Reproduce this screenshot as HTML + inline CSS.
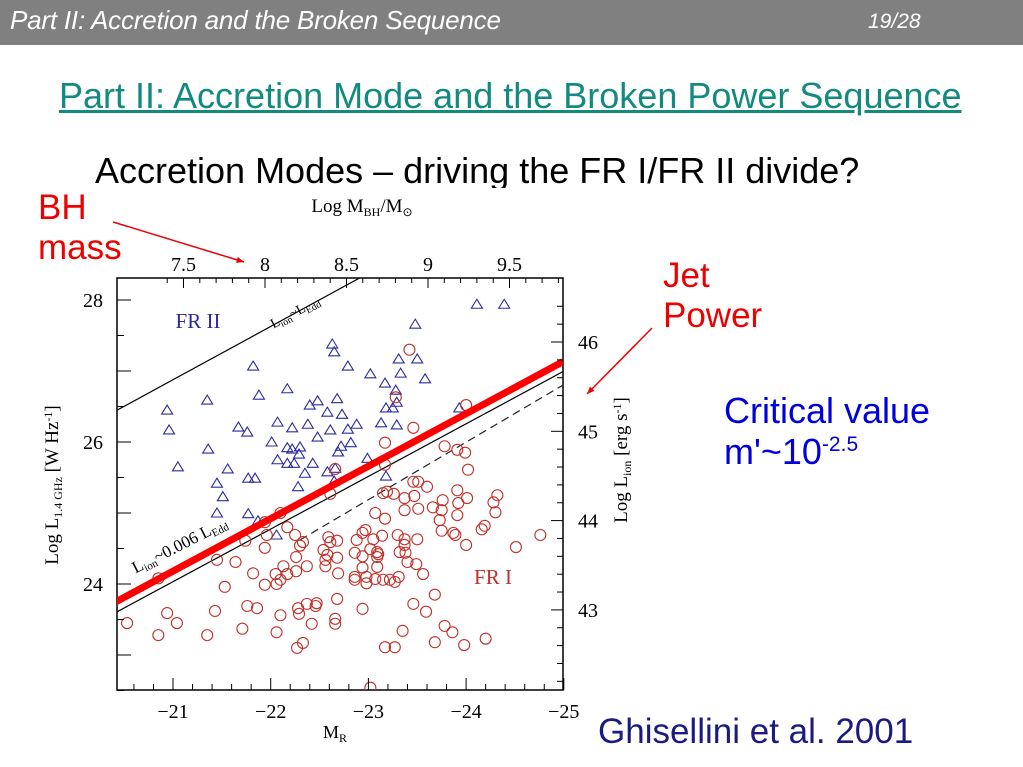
<!DOCTYPE html>
<html><head><meta charset="utf-8"><style>
html,body{margin:0;padding:0;background:#fff;}
body{width:1023px;height:767px;position:relative;overflow:hidden;font-family:"Liberation Sans",sans-serif;}
.abs{position:absolute;white-space:nowrap;}
</style></head><body>
<div class="abs" style="left:0;top:0;width:1023px;height:45px;background:#808080;"></div>
<div class="abs" style="left:10px;top:5px;font-size:26px;font-style:italic;color:#fff;letter-spacing:-0.2px;">Part II: Accretion and the Broken Sequence</div>
<div class="abs" style="left:868px;top:10px;font-size:21px;font-style:italic;color:#fff;">19/28</div>
<div class="abs" style="left:59px;top:75px;font-size:36px;color:#138a80;text-decoration:underline;">Part II: Accretion Mode and the Broken Power Sequence</div>
<div class="abs" style="left:95px;top:150px;font-size:36px;color:#000;height:38px;overflow:hidden;">Accretion Modes – driving the FR I/FR II divide?</div>

<svg id="chart" class="abs" style="left:0;top:0" width="1023" height="767" xmlns="http://www.w3.org/2000/svg"></svg>

<div class="abs" style="left:38px;top:188px;font-size:35px;color:#e00;line-height:40px;">BH<br>mass</div>
<div class="abs" style="left:663px;top:256px;font-size:35px;color:#e00;line-height:40px;">Jet<br>Power</div>
<div class="abs" style="left:724px;top:390px;font-size:36px;color:#0000dd;line-height:41px;">Critical value<br>m'~10<sup style="font-size:21px;line-height:0;">-2.5</sup></div>
<div class="abs" style="left:598px;top:712px;font-size:35px;color:#1a1a80;">Ghisellini et al. 2001</div>

<script>
const triM=[-24.11,-24.39,-23.48,-22.63,-22.65,-23.50,-23.31,-22.79,-21.82,-23.02,-23.33,-23.58,-23.17,-23.28,-22.17,-21.88,-23.29,-21.35,-22.68,-22.48,-22.40,-20.94,-23.18,-23.25,-23.93,-22.58,-22.73,-22.07,-22.38,-22.88,-23.13,-23.29,-22.22,-21.67,-21.76,-22.61,-22.79,-20.96,-22.48,-22.01,-22.82,-22.17,-22.22,-22.30,-22.72,-21.36,-22.29,-22.69,-22.99,-22.07,-22.17,-22.24,-22.43,-21.05,-21.56,-22.35,-22.58,-22.66,-23.18,-21.77,-21.84,-21.45,-22.28,-22.65,-21.51,-21.45,-21.77,-21.87,-22.06];
const triL=[27.94,27.94,27.66,27.38,27.27,27.17,27.17,27.07,27.07,26.96,26.97,26.89,26.83,26.73,26.75,26.66,26.56,26.59,26.61,26.58,26.52,26.45,26.48,26.48,26.48,26.42,26.39,26.28,26.25,26.25,26.27,26.24,26.20,26.21,26.14,26.17,26.18,26.17,26.07,26.00,25.99,25.92,25.90,25.93,25.94,25.90,25.83,25.86,25.77,25.75,25.70,25.70,25.70,25.65,25.62,25.56,25.58,25.63,25.52,25.49,25.49,25.42,25.37,25.45,25.23,25.00,24.99,24.89,24.69];
const cirM=[-23.42,-23.28,-24.00,-23.46,-23.17,-23.78,-23.91,-23.99,-24.02,-22.66,-23.17,-23.46,-23.51,-23.60,-23.91,-24.32,-22.61,-23.15,-23.19,-23.26,-23.37,-23.47,-24.01,-24.28,-23.66,-23.76,-23.92,-23.37,-23.51,-23.75,-23.91,-24.30,-23.07,-23.17,-23.73,-24.19,-24.16,-22.17,-22.10,-22.97,-22.94,-23.75,-23.87,-23.89,-21.96,-22.25,-22.59,-22.88,-23.05,-23.14,-23.30,-23.37,-23.50,-24.76,-22.33,-21.74,-22.61,-22.68,-22.30,-23.37,-24.00,-24.51,-22.54,-22.86,-23.02,-23.09,-23.10,-23.32,-23.38,-21.94,-22.94,-23.09,-22.26,-22.58,-22.68,-21.45,-21.64,-22.56,-23.40,-23.49,-22.37,-22.56,-22.13,-22.94,-23.09,-21.82,-22.05,-22.17,-22.26,-22.69,-22.06,-22.10,-21.94,-22.86,-22.86,-22.98,-22.98,-23.07,-23.15,-23.22,-23.27,-23.31,-23.56,-21.53,-20.85,-23.68,-21.76,-21.86,-22.28,-22.37,-22.46,-22.47,-22.68,-22.94,-23.46,-23.59,-20.94,-21.43,-22.10,-22.29,-22.66,-22.66,-22.42,-20.53,-21.04,-21.71,-22.06,-23.35,-23.78,-23.86,-20.85,-21.35,-22.33,-22.27,-23.17,-23.27,-23.68,-23.98,-24.20,-23.02,-21.94];
const cirL=[27.30,26.63,26.52,26.20,25.99,25.94,25.89,25.85,25.61,25.62,25.68,25.44,25.44,25.37,25.32,25.25,25.27,25.28,25.30,25.27,25.21,25.24,25.21,25.15,25.08,25.18,25.14,25.04,25.06,25.04,24.97,25.01,25.00,24.92,24.90,24.82,24.77,24.80,25.00,24.76,24.72,24.75,24.72,24.69,24.69,24.69,24.66,24.62,24.63,24.68,24.69,24.63,24.63,24.69,24.59,24.61,24.59,24.61,24.54,24.55,24.55,24.52,24.48,24.44,24.49,24.45,24.42,24.45,24.44,24.51,24.39,24.38,24.38,24.41,24.37,24.34,24.31,24.34,24.31,24.28,24.25,24.25,24.25,24.23,24.24,24.15,24.14,24.14,24.18,24.15,24.00,24.06,23.99,24.10,24.06,24.10,24.01,24.07,24.06,24.06,24.03,24.10,24.14,23.96,24.08,23.85,23.69,23.66,23.66,23.72,23.69,23.73,23.79,23.65,23.72,23.61,23.59,23.62,23.56,23.58,23.51,23.44,23.44,23.45,23.45,23.37,23.32,23.34,23.41,23.32,23.28,23.28,23.17,23.10,23.11,23.11,23.18,23.14,23.23,22.54,24.87];
const eddM=[-20.43,-22.91], eddL=[26.45,28.31];
const redM=[-20.39,-24.99], redL=[23.73,27.13];
const thinM=[-20.43,-24.99], thinL=[23.61,26.99];
const dashM=[-22.30,-24.99], dashL=[24.62,26.80];
const xTicks=[-21,-22,-23,-24,-25];
const yTicks=[24,26,28];
const topTicks=[7.5,8,8.5,9,9.5];
const rightTicks=[43,44,45,46];

const NS="http://www.w3.org/2000/svg";
const svg=document.getElementById('chart');
const X0=117,X1=563,Y0=278,Y1=690;
const xs=m=>173+(-21-m)*97.7;
const ys=l=>300+(28-l)*71;
const topX=v=>265+(v-8)*163;
const rightY=v=>342+(46-v)*89.3;
function mk(t,a){const e=document.createElementNS(NS,t);for(const k in a)e.setAttribute(k,a[k]);svg.appendChild(e);return e;}
const clip=mk('clipPath',{id:'pc'});const cr=document.createElementNS(NS,'rect');clip.appendChild(cr);
cr.setAttribute('x',X0);cr.setAttribute('y',Y0);cr.setAttribute('width',X1-X0);cr.setAttribute('height',Y1-Y0);
const fr=mk('rect',{x:X0,y:Y0,width:X1-X0,height:Y1-Y0,fill:'none',stroke:'#000','stroke-width':1.5});


const g=mk('g',{'clip-path':'url(#pc)'});
function tick(x1,y1,x2,y2){mk('line',{x1,y1,x2,y2,stroke:'#000','stroke-width':1});}
for(let v=-20.6;v>=-25;v-=0.2){const x=xs(v);const maj=Math.abs(v-Math.round(v))<0.01;tick(x,Y1,x,Y1-(maj?12:6));}
for(let v=22.5;v<=28.3;v+=0.5){const y=ys(v);const maj=Math.abs(v-Math.round(v))<0.01;tick(X0,y,X0+(maj?14:7),y);}
for(let v=7.4;v<=9.9;v+=0.1){const x=topX(v);if(x>X0&&x<X1)tick(x,Y0,x,Y0+(Math.abs(v*2-Math.round(v*2))<0.01?10:5));}
for(let v=42.2;v<=46.6;v+=0.2){const y=rightY(v);if(y>Y0&&y<Y1)tick(X1,y,X1-(Math.abs(v-Math.round(v))<0.01?12:6),y);}
function txt(s,x,y,size,extra){const t=mk('text',Object.assign({x,y,'font-size':size,'font-family':'"Liberation Serif",serif','text-anchor':'middle'},extra||{}));t.textContent=s;return t;}
xTicks.forEach(v=>{const t=txt('\u2212'+Math.abs(v),xs(v),718,20);});
yTicks.forEach(v=>{const t=txt(String(v),93,ys(v)+7,20);});
topTicks.forEach(v=>{const t=txt(String(v),topX(v),271,20);});
rightTicks.forEach(v=>{const t=txt(String(v),588,rightY(v)+7,20);});
const xl=txt('M',335,738,18);xl.innerHTML='M<tspan font-size="12" dy="4">R</tspan>';

const tl=txt('',362,212,19);tl.innerHTML='Log  M<tspan font-size="12" dy="4">BH</tspan><tspan dy="-4">/M</tspan><tspan font-size="12" dy="4">⊙</tspan>';

const yl=txt('',0,0,19,{transform:'translate(58,485) rotate(-90)'});yl.innerHTML='Log  L<tspan font-size="12" dy="4">1.4 GHz</tspan><tspan dy="-4">  [W  Hz</tspan><tspan font-size="12" dy="-6">-1</tspan><tspan dy="6">]</tspan>';

const rl=txt('',0,0,19,{transform:'translate(627,460) rotate(-90)'});rl.innerHTML='Log  L<tspan font-size="12" dy="4">ion</tspan><tspan dy="-4">  [erg  s</tspan><tspan font-size="12" dy="-6">-1</tspan><tspan dy="6">]</tspan>';

function ln(M,L,attrs){const e=document.createElementNS(NS,'line');e.setAttribute('x1',xs(M[0]));e.setAttribute('y1',ys(L[0]));e.setAttribute('x2',xs(M[1]));e.setAttribute('y2',ys(L[1]));for(const k in attrs)e.setAttribute(k,attrs[k]);g.appendChild(e);return e;}
const l1=ln(eddM,eddL,{stroke:'#000','stroke-width':1.2});


const l3=ln(dashM,dashL,{stroke:'#222','stroke-width':1.2,'stroke-dasharray':'8,5'});


const l4=ln(thinM,thinL,{stroke:'#000','stroke-width':1.2});


triM.forEach((m,i)=>{const x=xs(m),y=ys(triL[i]);const p=document.createElementNS(NS,'polygon');p.setAttribute('points',`${x},${y-5} ${x-5.5},${y+4} ${x+5.5},${y+4}`);p.setAttribute('fill','none');p.setAttribute('stroke','#2b2ba0');p.setAttribute('stroke-width',1.1);


g.appendChild(p);});
cirM.forEach((m,i)=>{const c=document.createElementNS(NS,'circle');c.setAttribute('cx',xs(m));c.setAttribute('cy',ys(cirL[i]));c.setAttribute('r',5.5);c.setAttribute('fill','none');c.setAttribute('stroke','#c0302a');c.setAttribute('stroke-width',1.1);


g.appendChild(c);});
const l2=ln(redM,redL,{stroke:'#f00','stroke-width':7});


const a=txt('FR  II',198,328,21,{fill:'#2b2ba0'});
const b=txt('FR  I',493,584,21,{fill:'#c0302a'});
const c1=txt('',297,316,14,{transform:'rotate(-28 297 316)'});c1.innerHTML='L<tspan font-size="10" dy="3">ion</tspan><tspan dy="-3">~L</tspan><tspan font-size="10" dy="3">Edd</tspan>';

const c2=txt('',182,550,17,{transform:'rotate(-27 182 550)'});c2.innerHTML='L<tspan font-size="11" dy="3">ion</tspan><tspan dy="-3">~0.006  L</tspan><tspan font-size="11" dy="3">Edd</tspan>';

const mkA=(x1,y1,x2,y2,name)=>{const l=mk('line',{x1,y1,x2,y2,stroke:'#e00','stroke-width':1.5});const ang=Math.atan2(y2-y1,x2-x1);const s=8;mk('polygon',{points:`${x2},${y2} ${x2-s*Math.cos(ang-0.4)},${y2-s*Math.sin(ang-0.4)} ${x2-s*Math.cos(ang+0.4)},${y2-s*Math.sin(ang+0.4)}`,fill:'#e00'});};
mkA(113,222,244,262,'bh-mass-arrow');
mkA(652,328,587,394,'jet-power-arrow');
</script>
</body></html>
